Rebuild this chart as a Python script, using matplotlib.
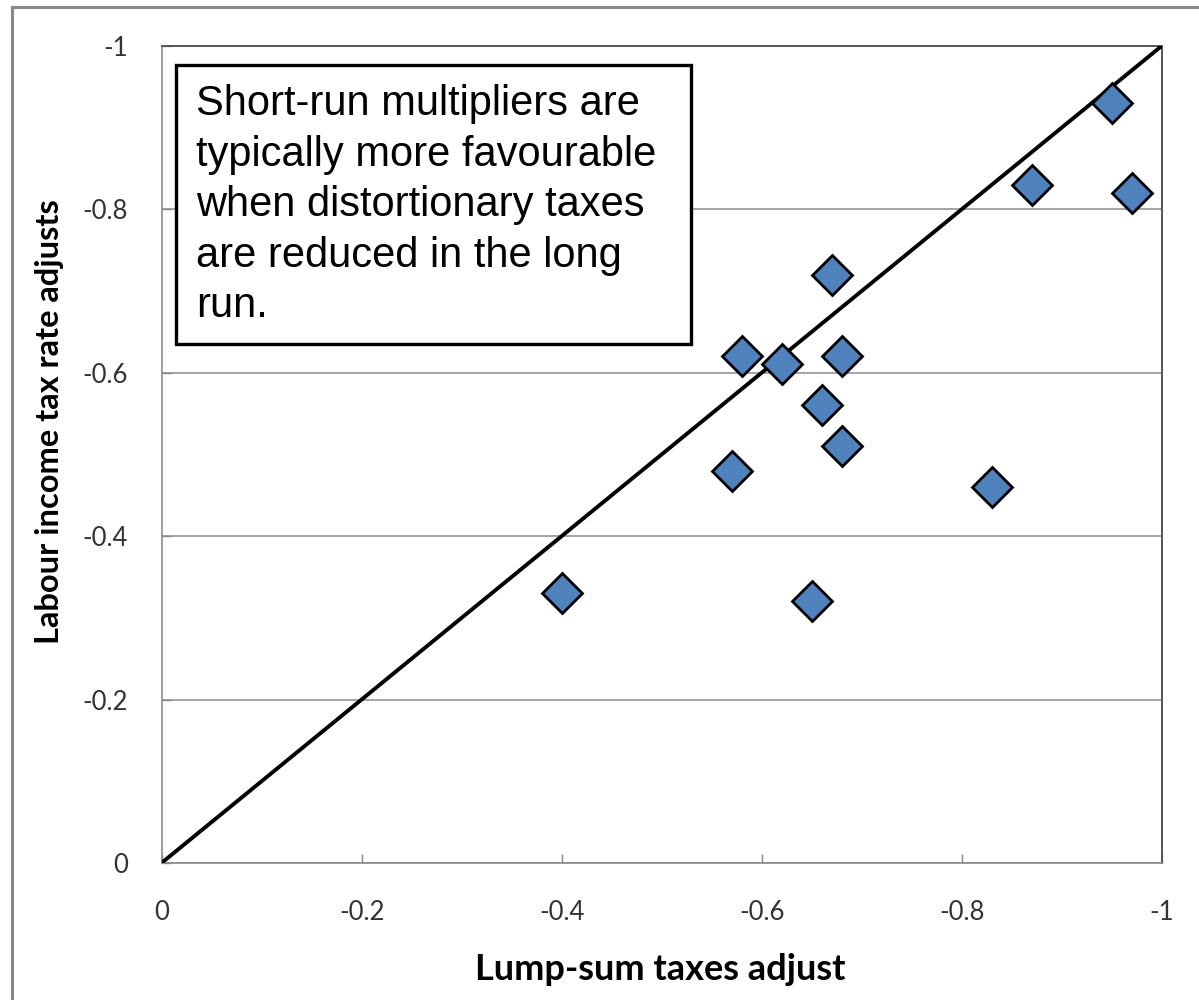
import matplotlib
matplotlib.use("Agg")
import matplotlib.pyplot as plt
from matplotlib.lines import Line2D

# Data
lump_sum = [-0.40, -0.57, -0.58, -0.62, -0.65, -0.66, -0.67, -0.68, -0.68, -0.83, -0.87, -0.95, -0.97]
labour_tax = [-0.33, -0.48, -0.62, -0.61, -0.32, -0.56, -0.72, -0.62, -0.51, -0.46, -0.83, -0.93, -0.82]
diag_x = [0, -1]
diag_y = [0, -1]
ticks = [0, -0.2, -0.4, -0.6, -0.8, -1]
tick_labels = ["0", "-0.2", "-0.4", "-0.6", "-0.8", "-1"]
x_title = "Lump-sum taxes adjust"
y_title = "Labour income tax rate adjusts"
note = ("Short-run multipliers are\ntypically more favourable\nwhen distortionary taxes\n"
        "are reduced in the long\nrun.")

W, H = 1199, 1000
fig = plt.figure(figsize=(W / 100, H / 100), dpi=100)
fig.patch.set_facecolor("white")

# outer border (left and top)
fig.add_artist(Line2D([11.5 / W, 11.5 / W], [0, 1 - 6.5 / H], transform=fig.transFigure,
                      color="#888888", lw=2.2, solid_capstyle="projecting"))
fig.add_artist(Line2D([11.5 / W, 1], [1 - 6.5 / H, 1 - 6.5 / H], transform=fig.transFigure,
                      color="#888888", lw=2.2, solid_capstyle="projecting"))

left, right, top, bottom = 161.5, 1162, 45.7, 863
ax = fig.add_axes([left / W, 1 - bottom / H, (right - left) / W, (bottom - top) / H])
ax.set_xlim(0, -1)
ax.set_ylim(0, -1)

ax.set_xticks(ticks)
ax.set_xticklabels(tick_labels)
ax.set_yticks(ticks)
ax.set_yticklabels(tick_labels)

for lab in ax.get_xticklabels() + ax.get_yticklabels():
    lab.set_fontfamily("Lato")
    lab.set_fontsize(18.5)
    lab.set_color("#333333")

ax.tick_params(axis="both", direction="in", length=6.5, width=1, color="#868686")
ax.tick_params(axis="x", pad=27)
ax.tick_params(axis="y", pad=24)

ax.yaxis.grid(True, color="#8c8c8c", lw=1.1)
ax.set_axisbelow(True)

for s in ["left", "bottom"]:
    ax.spines[s].set_color("#8c8c8c")
    ax.spines[s].set_linewidth(1.2)
for s in ["top", "right"]:
    ax.spines[s].set_color("#555555")
    ax.spines[s].set_linewidth(1.4)

ax.plot(diag_x, diag_y, color="black", lw=2.8, zorder=3, solid_capstyle="round")
ax.plot(lump_sum, labour_tax, linestyle="none", marker="D", markersize=20,
        markerfacecolor="#4f81bd", markeredgecolor="black", markeredgewidth=2, zorder=4,
        clip_on=False)

# axis titles
fig.text(660 / W, 1 - 980 / H, x_title, fontfamily="Lato", fontweight="bold", fontsize=26,
         color="black", ha="center", va="baseline")
fig.text(50 / W, 1 - 422 / H, y_title, fontfamily="Lato", fontweight="bold", fontsize=23.5,
         color="black", ha="center", va="center", rotation=90)

# annotation box
bx0, by0, bx1, by1 = 175.5, 65, 691, 343.5
fig.add_artist(plt.Rectangle((bx0 / W, 1 - by1 / H), (bx1 - bx0) / W, (by1 - by0) / H,
                             transform=fig.transFigure, facecolor="white", edgecolor="black",
                             lw=2.4, zorder=10))
fig.text(196 / W, 1 - 84 / H, note, fontfamily="Liberation Sans", fontsize=30,
         color="black", va="top", ha="left", linespacing=1.34, zorder=11)

fig.savefig("out.png", dpi=100, facecolor="white")
